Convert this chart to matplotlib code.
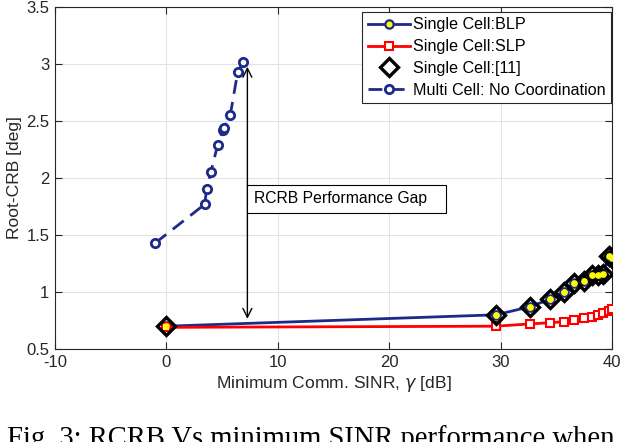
import numpy as np
import matplotlib
matplotlib.use('Agg')
import matplotlib.pyplot as plt

# data
sinr_multi = [-1.0, 3.45, 3.6, 4.0, 4.6, 5.07, 5.16, 5.73, 6.4, 6.87]
rcrb_multi = [1.43, 1.77, 1.90, 2.055, 2.29, 2.42, 2.44, 2.55, 2.93, 3.015]

sinr_single = [0, 29.6, 32.6, 34.4, 35.7, 36.6, 37.45, 38.2, 38.7, 39.2, 39.7, 40.0]
rcrb_blp = [0.70, 0.80, 0.87, 0.935, 1.0, 1.08, 1.10, 1.145, 1.15, 1.155, 1.32, 1.30]
rcrb_slp = [0.69, 0.70, 0.72, 0.73, 0.74, 0.755, 0.77, 0.78, 0.80, 0.82, 0.835, 0.85]
rcrb_ref11 = [0.70, 0.80, 0.87, 0.935, 1.0, 1.08, 1.10, 1.145, 1.15, 1.155, 1.32, 1.30]

gap_x = 7.27
gap_top = 3.0
gap_bottom = 0.74

xticks = [-10, 0, 10, 20, 30, 40]
yticks = [0.5, 1, 1.5, 2, 2.5, 3, 3.5]

plt.rcParams['font.family'] = ['Liberation Sans', 'DejaVu Sans']
plt.rcParams['mathtext.fontset'] = 'dejavusans'
plt.rcParams['axes.unicode_minus'] = False

navy = '#1c2a8a'
red = '#ff0000'

fig = plt.figure(figsize=(6.22, 4.42), dpi=100)
ax = fig.add_axes([55/622, 93/442, 557/622, 342/442])

ax.plot(sinr_single, rcrb_blp, '-o', color=navy, lw=2, ms=6,
        mfc='yellow', mec=navy, mew=1.6, label='Single Cell:BLP', zorder=3)
ax.plot(sinr_single, rcrb_slp, '-s', color=red, lw=2, ms=6,
        mfc='white', mec=red, mew=1.5, label='Single Cell:SLP', zorder=3)
ax.plot(sinr_single, rcrb_ref11, 'D', ls='none', ms=9, mfc='none',
        mec='black', mew=2.4, label='Single Cell:[11]', zorder=4)
ax.plot(sinr_single, rcrb_blp, 'o', ls='none', ms=3.8, mfc='yellow',
        mec='yellow', zorder=5)
ax.plot(sinr_multi, rcrb_multi, '--o', color=navy, lw=2, ms=6,
        mfc='white', mec=navy, mew=2, dashes=(5, 3),
        label='Multi Cell: No Coordination', zorder=3)

# gap arrow and its text box
ax.annotate('', xy=(gap_x, gap_bottom), xytext=(gap_x, gap_top),
            arrowprops=dict(arrowstyle='<->', color='black', lw=1,
                            mutation_scale=16), zorder=6)
ax.annotate('RCRB Performance Gap   ', xy=(gap_x, 1.816), xytext=(4.5, 0),
            textcoords='offset points', va='center', ha='left', fontsize=11.3,
            bbox=dict(boxstyle='square,pad=0.4', fc='white', ec='black', lw=0.8),
            zorder=7)

ax.set_xlim(-10, 40)
ax.set_ylim(0.5, 3.5)
ax.set_xticks(xticks)
ax.set_yticks(yticks)
ax.set_yticklabels(['0.5', '1', '1.5', '2', '2.5', '3', '3.5'])
ax.grid(True, color='#e3e3e3', lw=0.8)
ax.set_axisbelow(True)
ax.tick_params(direction='in', top=True, right=True, length=5, width=0.8,
               labelsize=12, colors='#262626', pad=4)
for s in ax.spines.values():
    s.set_color('#262626')
    s.set_linewidth(0.8)

ax.set_xlabel(r'Minimum Comm. SINR, $\gamma$ [dB]', fontsize=12.6, color='#262626', labelpad=3)
ax.set_ylabel('Root-CRB [deg]', fontsize=12.6, color='#262626', labelpad=3)

leg = ax.legend(loc='upper right', bbox_to_anchor=(0.999, 0.986), borderaxespad=0,
                fontsize=11.6, handlelength=2.6, handletextpad=0.2,
                labelspacing=0.42, borderpad=0.35, fancybox=False, framealpha=1)
leg.get_frame().set_edgecolor('#262626')
leg.get_frame().set_linewidth(0.8)

fig.text(7/622, -0.009, 'Fig. 3: RCRB Vs minimum SINR performance when',
         family='Liberation Serif', fontsize=20.6, va='baseline', ha='left')

fig.savefig('out.png', dpi=100)
